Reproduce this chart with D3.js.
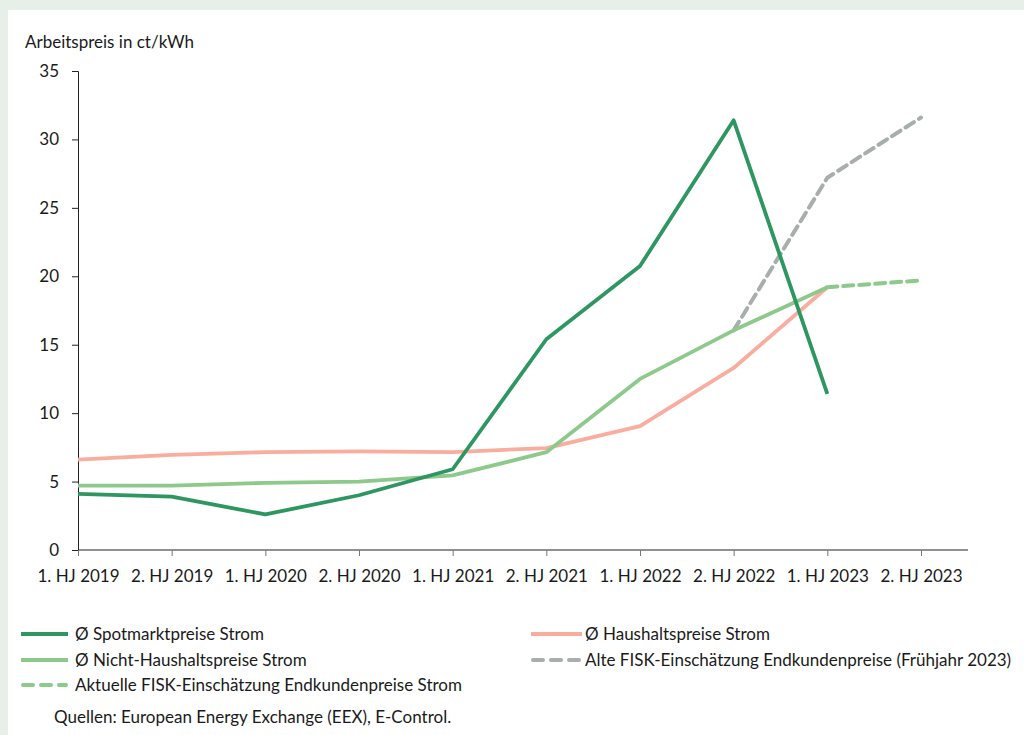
<!DOCTYPE html>
<html><head><meta charset="utf-8">
<script src="https://cdn.jsdelivr.net/npm/d3@7"></script>
<style>
html,body{margin:0;padding:0;background:#e6efe8;}
svg{display:block;}
text{font-family:Lato, "Open Sans", sans-serif;fill:#1a1a1a;}
</style></head><body>
<svg id="c" width="1024" height="735"></svg>
<script>
const categories = ["1. HJ 2019","2. HJ 2019","1. HJ 2020","2. HJ 2020","1. HJ 2021","2. HJ 2021","1. HJ 2022","2. HJ 2022","1. HJ 2023","2. HJ 2023"];
const spot      = [4.1, 3.9, 2.6, 4.0, 5.9, 15.4, 20.75, 31.4, 11.4, null];
const haushalt  = [6.6, 6.95, 7.15, 7.2, 7.15, 7.45, 9.05, 13.3, 19.2, null];
const nichtHaus = [4.7, 4.7, 4.9, 5.0, 5.45, 7.15, 12.5, 16.05, 19.2, null];
const alteFisk  = [null, null, null, null, null, null, null, 16.05, 27.2, 31.6];
const aktFisk   = [null, null, null, null, null, null, null, null, 19.2, 19.7];
const yTicks = [0, 5, 10, 15, 20, 25, 30, 35];
const yTitle = "Arbeitspreis in ct/kWh";
const source = "Quellen: European Energy Exchange (EEX), E-Control.";
const seriesNames = ["Ø Spotmarktpreise Strom","Ø Haushaltspreise Strom","Ø Nicht-Haushaltspreise Strom","Alte FISK-Einschätzung Endkundenpreise (Frühjahr 2023)","Aktuelle FISK-Einschätzung Endkundenpreise Strom"];

const FS = 17;
const svg = d3.select("#c");
svg.append("rect").attr("x",8).attr("y",10).attr("width",1016).attr("height",725).attr("fill","#fff");

const x = d3.scalePoint().domain(categories).range([78, 921]);
const y = d3.scaleLinear().domain([0,35]).range([550, 71]);

const series = [
  {name:seriesNames[4], data:aktFisk, color:"#8dc98b", dash:"10,6"},
  {name:seriesNames[3], data:alteFisk, color:"#a7aeab", dash:"10,6"},
  {name:seriesNames[1], data:haushalt, color:"#f9ad9e", dash:null},
  {name:seriesNames[2], data:nichtHaus, color:"#8dc98b", dash:null},
  {name:seriesNames[0], data:spot, color:"#2e9660", dash:null},
];

// axes
const gy = svg.append("g").attr("transform","translate(78,0)")
  .call(d3.axisLeft(y).tickValues(yTicks).tickSize(6).tickPadding(13).tickFormat(d3.format("d")));
gy.select(".domain").attr("stroke","#222");
gy.selectAll(".tick line").attr("stroke","#222");
gy.selectAll("text").attr("font-size",FS).attr("font-family","Lato, sans-serif").attr("fill","#1a1a1a");

const gx = svg.append("g").attr("transform","translate(0,550)")
  .call(d3.axisBottom(x).tickSize(6).tickSizeOuter(0).tickPadding(14));
gx.select(".domain").attr("d","M78,0H968").attr("stroke","#222");
gx.selectAll(".tick line").attr("stroke","#777");
gx.selectAll("text").attr("font-size",FS).attr("font-family","Lato, sans-serif").attr("fill","#1a1a1a");

svg.append("text").attr("x",25).attr("y",48).attr("font-size",FS).text(yTitle);

const line = d3.line().defined(d=>d.v!=null).x(d=>x(d.c)).y(d=>y(d.v));
series.forEach(s=>{
  svg.append("path")
    .datum(categories.map((c,i)=>({c, v:s.data[i]})))
    .attr("d", line).attr("fill","none").attr("stroke", s.color)
    .attr("stroke-width", s.dash?4:3.8).attr("stroke-linejoin","round")
    .attr("stroke-linecap", s.dash?"round":"butt")
    .attr("stroke-dasharray", s.dash);
});

// legend
const legItems = [
  {idx:4, x1:21, x2:68, tx:75, y:634},
  {idx:2, x1:531, x2:582, tx:585, y:634},
  {idx:3, x1:21, x2:68, tx:75, y:660},
  {idx:1, x1:531, x2:582, tx:585, y:660},
  {idx:0, x1:21, x2:68, tx:75, y:685},
];
legItems.forEach(it=>{
  const s = series[it.idx];
  svg.append("line").attr("x1",it.x1+(s.dash?2:0)).attr("x2",it.x2-(s.dash?2:0)).attr("y1",it.y).attr("y2",it.y)
    .attr("stroke",s.color).attr("stroke-width",4)
    .attr("stroke-linecap", s.dash?"round":"butt")
    .attr("stroke-dasharray", s.dash?"10,8":null);
  svg.append("text").attr("x",it.tx).attr("y",it.y+6).attr("font-size",FS).text(s.name);
});

svg.append("text").attr("x",54).attr("y",723).attr("font-size",FS).text(source);
</script>
</body></html>
